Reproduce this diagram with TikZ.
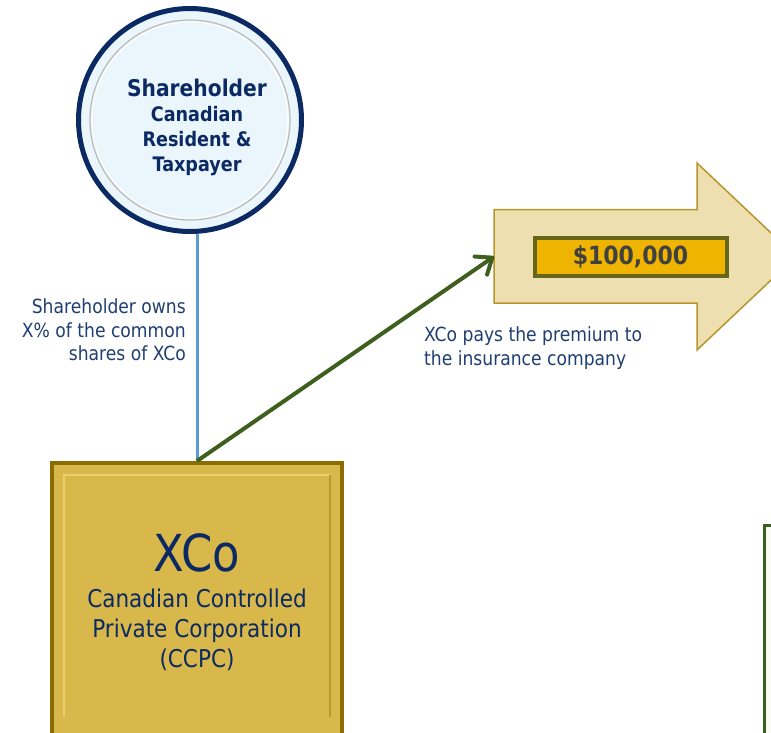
\documentclass[tikz,border=0pt]{standalone}
\usepackage{fontspec}
\setmainfont[FakeStretch=0.88]{DejaVu Sans}
\usetikzlibrary{arrows.meta}
\definecolor{navy}{HTML}{0B2A63}
\definecolor{circfill}{HTML}{EBF6FC}
\definecolor{labelblue}{HTML}{1F3F72}
\definecolor{linkblue}{HTML}{5B9BD5}
\definecolor{darkgreen}{HTML}{3F5F1F}
\definecolor{goldfill}{HTML}{D8B74B}
\definecolor{goldedge}{HTML}{8C6D00}
\definecolor{goldlight}{HTML}{EACF6E}
\definecolor{golddark}{HTML}{B8972F}
\definecolor{arrowfill}{HTML}{EEDFB0}
\definecolor{arrowedge}{HTML}{B8962E}
\definecolor{moneyfill}{HTML}{EEB400}
\definecolor{moneyedge}{HTML}{66661A}
\definecolor{moneytext}{HTML}{404040}
\definecolor{boxfill}{HTML}{F8FAF3}
\definecolor{boxedge}{HTML}{3B5E20}
\tikzset{
  shcircle/.style={circle, draw=navy, line width=5pt, fill=circfill, minimum size=223pt, inner sep=0pt},
  corpbox/.style={rectangle, draw=goldedge, line width=4pt, fill=goldfill, minimum width=290pt, minimum height=300pt, inner sep=0pt},
  moneybox/.style={rectangle, draw=moneyedge, line width=4pt, fill=moneyfill, minimum width=192pt, minimum height=38pt, inner sep=0pt, text=moneytext, font=\bfseries\fontsize{25}{28}\selectfont},
  lbl/.style={text=labelblue, font=\fontsize{19.5}{23.5}\selectfont, inner sep=0pt},
  ownline/.style={draw=linkblue, line width=3pt},
  payarrow/.style={draw=darkgreen, line width=4pt, -{Straight Barb[length=14pt,width=22pt,round]}},
}
\begin{document}
\begin{tikzpicture}[x=1pt,y=-1pt]
\useasboundingbox (0,0) rectangle (771,732);
\clip (0,0) rectangle (771,732);
\fill[white] (0,0) rectangle (771,732);

% right green box (partly visible)
\draw[draw=boxedge, line width=3pt, fill=boxfill] (764.5,525.5) rectangle (900,800);

% shareholder circle
\node[shcircle] (sh) at (190,120) {};
\draw[gray!55, line width=1.2pt] (sh.center) circle[radius=100pt];
\draw[white, line width=1pt] (sh.center) circle[radius=98pt];
\node[text=navy, align=center, inner sep=0pt, font=\bfseries\fontsize{20}{25}\selectfont] (shtext) at (197,127)
  {{\fontsize{23}{25}\selectfont Shareholder}\\Canadian\\Resident \&\\Taxpayer};

% XCo box
\node[corpbox] (xco) at (197,613) {};
\draw[goldlight, line width=1.5pt] (64,717) -- (64,475) -- (330,475);
\draw[golddark, line width=1.5pt] (330,475) -- (330,717);
\node[text=navy, inner sep=0pt, font=\fontsize{51}{51}\selectfont] (xcotitle) at (197,553) {XCo};
\node[text=navy, align=center, inner sep=0pt, font=\fontsize{24.5}{30}\selectfont] (xcosub) at (197,630)
  {Canadian Controlled\\Private Corporation\\(CCPC)};

% ownership link
\draw[ownline] (xco.north) -- (xco.north |- sh.south);
\node[lbl, anchor=east, align=right] (owntext) at (186,330)
  {Shareholder owns\\X\% of the common\\shares of XCo};

% big premium arrow
\coordinate (ba) at (494,256.5);
\draw[draw=arrowedge, line width=1.5pt, fill=arrowfill]
  (494,209.5) -- (697,209.5) -- (697,163) -- (796,256.5) -- (697,350) -- (697,303) -- (494,303) -- cycle;
\node[moneybox] (money) at (630.5,256.5) {\$100,000};

% payment arrow
\draw[payarrow] (xco.north) -- (ba);
\node[lbl, anchor=west, align=left] (paytext) at (424,348)
  {XCo pays the premium to\\the insurance company};
\end{tikzpicture}
\end{document}
